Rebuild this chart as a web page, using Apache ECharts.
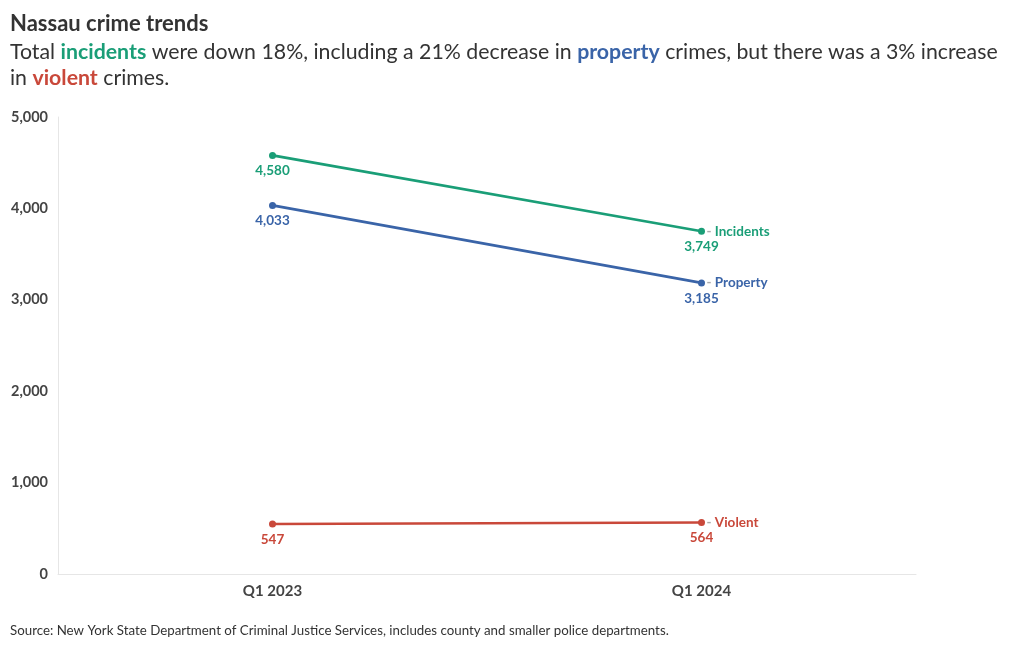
<!DOCTYPE html>
<html><head><meta charset="utf-8">
<script src="https://cdn.jsdelivr.net/npm/echarts@6/dist/echarts.min.js"></script>
<style>html,body{margin:0;padding:0;background:#fff}#c{width:1020px;height:650px}</style>
</head><body><div id="c"></div>
<script>
const categories = ['Q1 2023', 'Q1 2024'];
const incidents = [4580, 3749];
const property = [4033, 3185];
const violent = [547, 564];
const yTicks = [0, 1000, 2000, 3000, 4000, 5000];

const FONT = 'Lato';
const GREEN = '#1a9e77', BLUE = '#3a64a8', RED = '#c9483a';

function mk(name, data, color) {
  return {
    name, type: 'line', data,
    symbol: 'circle', symbolSize: 7,
    lineStyle: { width: 2.6, color },
    itemStyle: { color },
    label: { show: true, position: 'bottom', distance: 5, color, fontFamily: FONT, fontWeight: 'bold', fontSize: 13.5,
      formatter: p => p.value.toLocaleString('en-US') },
    endLabel: { show: true, distance: 5, fontFamily: FONT, fontWeight: 'bold', fontSize: 13.5,
      formatter: '{d|-} {n|' + name + '}',
      rich: { d: { color: '#aaa', fontFamily: FONT, fontSize: 13.5 }, n: { color, fontFamily: FONT, fontWeight: 'bold', fontSize: 13.5 } } },
    emphasis: { disabled: true }, animation: false
  };
}

const chart = echarts.init(document.getElementById('c'));
chart.setOption({
  animation: false,
  title: [{
    left: 10, top: 13, padding: 0,
    text: 'Nassau crime trends',
    textStyle: { fontFamily: FONT, fontSize: 22, fontWeight: 'bold', color: '#333' }
  }, {
    left: 10, top: 39, padding: 0,
    text: 'Total {g|incidents} were down 18%, including a 21% decrease in {b|property} crimes, but there was a 3% increase\nin {r|violent} crimes.',
    textStyle: { fontFamily: FONT, fontSize: 21.3, fontWeight: 'normal', color: '#333', lineHeight: 26,
      rich: {
        g: { color: GREEN, fontWeight: 'bold', fontFamily: FONT, fontSize: 21.3 },
        b: { color: BLUE, fontWeight: 'bold', fontFamily: FONT, fontSize: 21.3 },
        r: { color: RED, fontWeight: 'bold', fontFamily: FONT, fontSize: 21.3 }
      } }
  }, {
    left: 10, top: 624, padding: 0,
    text: 'Source: New York State Department of Criminal Justice Services, includes county and smaller police departments.',
    textStyle: { fontFamily: FONT, fontSize: 13.3, fontWeight: 'normal', color: '#333' }
  }],
  grid: { left: 58, right: 104, top: 117, bottom: 76, containLabel: false },
  xAxis: {
    type: 'category', data: categories, boundaryGap: true,
    axisLine: { show: true, lineStyle: { color: '#e6e6e6' } },
    axisTick: { show: false },
    axisLabel: { fontFamily: FONT, fontWeight: 'bold', fontSize: 15, color: '#444', margin: 10 }
  },
  yAxis: {
    type: 'value', min: yTicks[0], max: yTicks[yTicks.length - 1], interval: 1000,
    axisLine: { show: true, lineStyle: { color: '#e6e6e6' } },
    splitLine: { show: false },
    axisTick: { show: false },
    axisLabel: { fontFamily: FONT, fontWeight: 'bold', fontSize: 14.5, color: '#444', margin: 10,
      formatter: v => v.toLocaleString('en-US') }
  },
  series: [mk('Incidents', incidents, GREEN), mk('Property', property, BLUE), mk('Violent', violent, RED)]
});
</script></body></html>
